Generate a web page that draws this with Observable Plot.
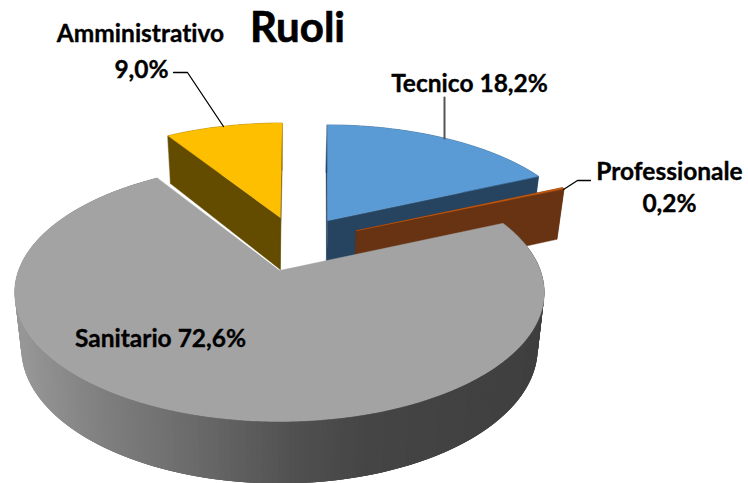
<!DOCTYPE html>
<html>
<head>
<meta charset="utf-8">
<script src="https://cdn.jsdelivr.net/npm/d3@7"></script>
<script src="https://cdn.jsdelivr.net/npm/@observablehq/plot@0.6"></script>
<style>html,body{margin:0;padding:0;background:#fff}svg{display:block;overflow:visible}svg text{font-variant-ligatures:none}</style>
</head>
<body>
<script>
// --- data ---
const categories = ["Tecnico", "Professionale", "Sanitario", "Amministrativo"];
const shares = [18.2, 0.2, 72.6, 9.0];
const title = "Ruoli";

// --- styles / layout ---
const topColors = ["#5b9bd5", "#c55a11", "#a3a3a3", "#fdbf00"];
const wallColors = ["#264360", "#673312", "#666666", "#634c00"];
const explode = [0.238, 0.265, 0.238, 0.238];
const rimNudge = [[0.03, 0.02], [0, -0.005], [0, 0], [0.01, 0.015]];
const drawOrder = [3, 0, 1, 2];
const W = 748, H = 483;
const view = {cx: 279, cy: 270, Rx: 261, Ry: 125.3, p: 0.17};
const shadeX = [20, 100, 200, 300, 370, 540];
const shadeC = ["#979797", "#808080", "#696969", "#505050", "#454545", "#3f3f3f"];
const font = "Lato, Carlito, Calibri, sans-serif";

const fmt = v => v.toFixed(1).replace(".", ",") + "%";
const labelLines = [
  {text: categories[3], x: 140, y: 34},
  {text: fmt(shares[3]), x: 141, y: 70},
  {text: `${categories[0]} ${fmt(shares[0])}`, x: 469, y: 84},
  {text: categories[1], x: 669, y: 172},
  {text: fmt(shares[1]), x: 669, y: 204},
  {text: `${categories[2]} ${fmt(shares[2])}`, x: 160, y: 339}
];
const leaders = [
  {id: "a", color: "#000", w: 1.3, pts: [[173, 72], [187, 72], [223, 126]]},
  {id: "t", color: "#555", w: 2, pts: [[444, 97], [444, 138]]},
  {id: "p", color: "#000", w: 1.3, pts: [[590, 180], [577, 180], [563, 189]]}
];

// --- geometry derived from the shares ---
const rad = d => d * Math.PI / 180;
const project = (X, Y) => {
  const s = 1 / (1 + view.p * Y);
  return [view.cx + view.Rx * X * s, view.cy - view.Ry * Y * s];
};
const lower = ([x, y]) => [x + (view.cx - x) * 0.025, y + 41.4 + 0.049 * y];

let acc = 0;
const wedges = shares.map((v, i) => {
  const a0 = acc * 3.6; acc += v; const a1 = acc * 3.6;
  return {i, a0, a1, mid: (a0 + a1) / 2};
});
const grayMid = rad(wedges[2].mid);
const O = [-explode[2] * Math.sin(grayMid), -explode[2] * Math.cos(grayMid)];
wedges.forEach(w => {
  const m = rad(w.mid);
  const ax = O[0] + explode[w.i] * Math.sin(m), ay = O[1] + explode[w.i] * Math.cos(m);
  const [nx, ny] = rimNudge[w.i];
  w.apex = project(ax, ay);
  w.rim = d3.range(w.a0, w.a1, 0.5).concat([w.a1]).map(a =>
    project(ax + nx + Math.sin(rad(a)), ay + ny + Math.cos(rad(a))));
});

const solids = [], stripes = [];
const add = (list, pts, fill, z) => pts.forEach(p => list.push({x: p[0], y: p[1], z, fill}));
const shade = d3.scaleLinear().domain(shadeX).range(shadeC).clamp(true);

let zid = 0;
const solid = (pts, fill) => add(solids, pts, fill, zid++);
wedges.filter(w => w.i !== 2).sort((a, b) => drawOrder.indexOf(a.i) - drawOrder.indexOf(b.i)).forEach(w => {
  const first = w.rim[0], last = w.rim[w.rim.length - 1];
  solid([...w.rim, ...w.rim.map(lower).reverse()], wallColors[w.i]);
  solid([w.apex, first, lower(first), lower(w.apex)], wallColors[w.i]);
  solid([w.apex, last, lower(last), lower(w.apex)], wallColors[w.i]);
  solid([w.apex, ...w.rim], topColors[w.i]);
});
const san = wedges[2];
// overlapping bands, painted in order, so that no seam shows between them
for (let k = 0; k < san.rim.length - 1; k += 2) {
  const a = san.rim[k], b = san.rim[Math.min(k + 6, san.rim.length - 1)];
  add(stripes, [a, b, lower(b), lower(a)], shade(a[0]), k);
}
const sanTop = [san.apex, ...san.rim].map(p => ({x: p[0], y: p[1]}));

const leaderMarks = leaders.map(l =>
  Plot.line(l.pts.map(p => ({x: p[0], y: p[1]})), {x: "x", y: "y", stroke: l.color, strokeWidth: l.w}));

const chart = Plot.plot({
  width: W, height: H,
  margin: 0,
  x: {domain: [0, W], range: [0, W], axis: null},
  y: {domain: [0, H], range: [0, H], axis: null},
  color: {type: "identity"},
  style: {background: "#fff"},
  marks: [
    Plot.line(solids, {x: "x", y: "y", z: "z", fill: "fill", stroke: "fill", strokeWidth: 0.4, curve: "linear-closed"}),
    Plot.line(stripes, {x: "x", y: "y", z: "z", fill: "fill", stroke: null, curve: "linear-closed"}),
    Plot.line(sanTop, {x: "x", y: "y", fill: topColors[2], stroke: topColors[2], strokeWidth: 0.4, curve: "linear-closed"}),
    ...leaderMarks,
    Plot.text([title], {x: [297], y: [28], text: d => d, fontFamily: font, fontWeight: 700, fontSize: 42, fill: "#000", stroke: "#000", strokeWidth: 0.7, textAnchor: "middle", lineAnchor: "middle"}),
    Plot.text(labelLines, {x: "x", y: "y", text: "text", fontFamily: font, fontWeight: 700, fontSize: 24.5, fill: "#000", stroke: "#000", strokeWidth: 0.35, textAnchor: "middle", lineAnchor: "middle"})
  ]
});
document.body.appendChild(chart);
</script>
</body>
</html>
